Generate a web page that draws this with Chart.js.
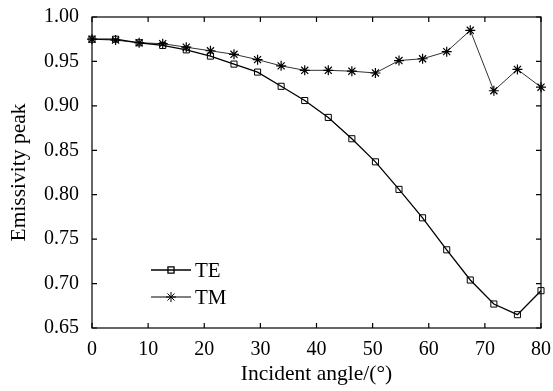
<!DOCTYPE html>
<html>
<head>
<meta charset="utf-8">
<script src="https://cdn.jsdelivr.net/npm/chart.js@4/dist/chart.umd.min.js"></script>
<style>
  html, body { margin: 0; padding: 0; background: #fff; }
  #wrap { width: 553px; height: 391px; }
</style>
</head>
<body>
<div id="wrap"><canvas id="chart" width="553" height="391"></canvas></div>
<script>
// Incident angle (deg) for each sample
const angles = [0, 4.2, 8.4, 12.6, 16.8, 21.1, 25.3, 29.5, 33.7, 37.9, 42.1, 46.3, 50.5, 54.7, 58.9, 63.2, 67.4, 71.6, 75.8, 80];

// Emissivity peak values
const teValues = [0.975, 0.975, 0.971, 0.968, 0.963, 0.956, 0.947, 0.938, 0.922, 0.906, 0.887, 0.863, 0.837, 0.806, 0.774, 0.738, 0.704, 0.677, 0.665, 0.692];
const tmValues = [0.975, 0.974, 0.971, 0.970, 0.966, 0.962, 0.958, 0.952, 0.945, 0.940, 0.940, 0.939, 0.937, 0.951, 0.953, 0.961, 0.985, 0.917, 0.941, 0.921];

// Axis ranges and ticks
const xTicks = [0, 10, 20, 30, 40, 50, 60, 70, 80];
const yTicks = [0.65, 0.70, 0.75, 0.80, 0.85, 0.90, 0.95, 1.00];

const FONT = "'Liberation Serif', 'Times New Roman', serif";

function toPoints(xs, ys) {
    return xs.map((x, i) => ({ x: x, y: ys[i] }));
}

// Draws the frame with inward ticks on all four sides
const framePlugin = {
    id: 'frame',
    afterDraw(chart) {
        const { ctx, chartArea: a, scales } = chart;
        const len = 5;
        ctx.save();
        ctx.strokeStyle = '#000';
        ctx.lineWidth = 1.2;
        ctx.strokeRect(a.left, a.top, a.right - a.left, a.bottom - a.top);
        ctx.beginPath();
        xTicks.forEach(v => {
            const px = scales.x.getPixelForValue(v);
            ctx.moveTo(px, a.bottom); ctx.lineTo(px, a.bottom - len);
            ctx.moveTo(px, a.top); ctx.lineTo(px, a.top + len);
        });
        yTicks.forEach(v => {
            const py = scales.y.getPixelForValue(v);
            ctx.moveTo(a.left, py); ctx.lineTo(a.left + len, py);
            ctx.moveTo(a.right, py); ctx.lineTo(a.right - len, py);
        });
        ctx.stroke();
        ctx.restore();
    }
};

// Legend inside the plot, lower left
const legendPlugin = {
    id: 'innerLegend',
    afterDraw(chart) {
        const { ctx, chartArea: a } = chart;
        const x0 = a.left + 59;
        const items = [
            { label: 'TE', ds: chart.data.datasets[0], y: a.bottom - 58 },
            { label: 'TM', ds: chart.data.datasets[1], y: a.bottom - 31 }
        ];
        ctx.save();
        items.forEach(it => {
            ctx.strokeStyle = '#000';
            ctx.lineWidth = it.ds.borderWidth;
            ctx.beginPath();
            ctx.moveTo(x0, it.y);
            ctx.lineTo(x0 + 40, it.y);
            ctx.stroke();
            Chart.helpers.drawPoint(ctx, {
                pointStyle: it.ds.pointStyle,
                radius: it.ds.pointRadius,
                borderWidth: 1
            }, x0 + 20, it.y);
            ctx.fillStyle = '#000';
            ctx.font = '21px ' + FONT;
            ctx.textBaseline = 'middle';
            ctx.textAlign = 'left';
            ctx.fillText(it.label, x0 + 44, it.y + 1);
        });
        ctx.restore();
    }
};

new Chart(document.getElementById('chart'), {
    type: 'line',
    data: {
        datasets: [{
            label: 'TE',
            data: toPoints(angles, teValues),
            borderColor: '#000',
            borderWidth: 1.3,
            backgroundColor: '#fff',
            pointStyle: 'rect',
            pointRadius: 4.3,
            pointBorderWidth: 1,
            pointBorderColor: '#000',
            pointBackgroundColor: 'rgba(255,255,255,0)',
            tension: 0,
            clip: false
        }, {
            label: 'TM',
            data: toPoints(angles, tmValues),
            borderColor: '#333',
            borderWidth: 1,
            pointStyle: 'star',
            pointRadius: 5,
            pointBorderWidth: 1.2,
            pointBorderColor: '#000',
            pointBackgroundColor: '#000',
            tension: 0,
            clip: false
        }]
    },
    options: {
        responsive: false,
        animation: false,
        layout: { padding: { left: 0, right: 8, top: 16, bottom: 0 } },
        plugins: {
            legend: { display: false },
            tooltip: { enabled: false }
        },
        scales: {
            x: {
                type: 'linear',
                min: 0,
                max: 80,
                grid: { display: false },
                border: { display: false },
                afterFit: (s) => { s.height = 63; },
                afterBuildTicks: (s) => { s.ticks = xTicks.map(v => ({ value: v })); },
                ticks: {
                    color: '#000',
                    padding: 2,
                    maxRotation: 0,
                    font: { family: FONT, size: 20 }
                },
                title: {
                    display: true,
                    text: 'Incident angle/(°)',
                    color: '#000',
                    font: { family: FONT, size: 21.5 },
                    padding: { top: 4, bottom: 4 }
                }
            },
            y: {
                min: 0.65,
                max: 1.0,
                grid: { display: false },
                border: { display: false },
                afterFit: (s) => { s.width = 92; },
                afterBuildTicks: (s) => { s.ticks = yTicks.map(v => ({ value: v })); },
                ticks: {
                    color: '#000',
                    padding: 5,
                    font: { family: FONT, size: 20 },
                    callback: (v) => v.toFixed(2)
                },
                title: {
                    display: true,
                    text: 'Emissivity peak',
                    color: '#000',
                    font: { family: FONT, size: 21.5 },
                    padding: { top: 6, bottom: 2 }
                }
            }
        }
    },
    plugins: [framePlugin, legendPlugin]
});
</script>
</body>
</html>
